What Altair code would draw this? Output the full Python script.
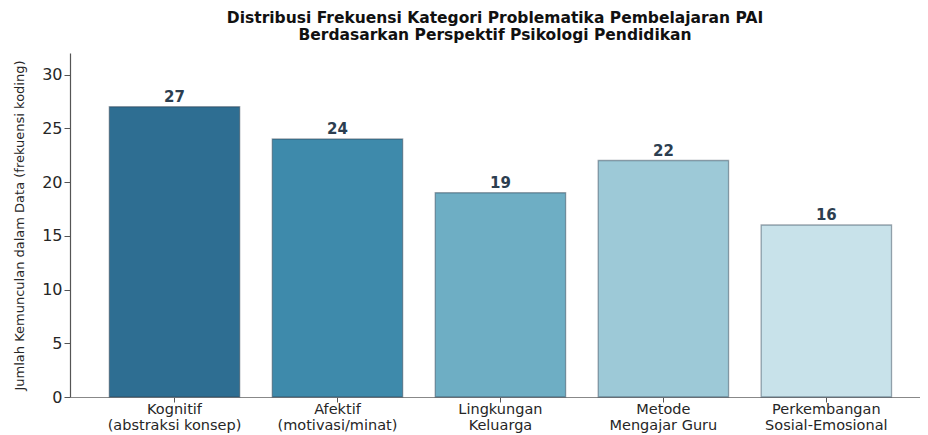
import altair as alt
import pandas as pd

categories = [
    "Kognitif\n(abstraksi konsep)",
    "Afektif\n(motivasi/minat)",
    "Lingkungan\nKeluarga",
    "Metode\nMengajar Guru",
    "Perkembangan\nSosial-Emosional",
]
values = [27, 24, 19, 22, 16]
colors = ["#2e6e92", "#3e8aab", "#6eaec4", "#9dc9d7", "#c8e2ea"]
y_ticks = [0, 5, 10, 15, 20, 25, 30]
title_lines = [
    "Distribusi Frekuensi Kategori Problematika Pembelajaran PAI",
    "Berdasarkan Perspektif Psikologi Pendidikan",
]
y_title = "Jumlah Kemunculan dalam Data (frekuensi koding)"

df = pd.DataFrame({"kategori": categories, "frekuensi": values})

FONT = "DejaVu Sans"

x_enc = alt.X(
    "kategori:N",
    sort=None,
    scale=alt.Scale(paddingInner=0.2, paddingOuter=0.208, align=0.58),
    axis=alt.Axis(
        title=None,
        labelAngle=0,
        labelExpr="split(datum.label, '\\n')",
        labelFont=FONT,
        labelFontSize=14.5,
        labelLineHeight=16,
        labelColor="#262626",
        labelPadding=0,
        tickSize=5,
        tickColor="#555555",
        domainColor="#888888",
        domainWidth=1.2,
    ),
)

y_scale = alt.Scale(domain=[0, 32], nice=False, zero=True)

bars = alt.Chart(df).mark_bar(
    stroke="#2c3e50", strokeOpacity=0.45, strokeWidth=1.3
).encode(
    x=x_enc,
    y=alt.Y(
        "frekuensi:Q",
        scale=y_scale,
        axis=alt.Axis(
            values=y_ticks,
            title=y_title,
            titleFont=FONT,
            titleFontSize=13,
            titleFontWeight="normal",
            titleColor="#262626",
            titlePadding=15,
            labelFont=FONT,
            labelFontSize=16,
            labelColor="#262626",
            labelPadding=2,
            tickSize=6,
            tickColor="#555555",
            domainColor="#555555",
            domainWidth=1.2,
            grid=False,
        ),
    ),
    color=alt.Color(
        "kategori:N",
        sort=None,
        scale=alt.Scale(domain=categories, range=colors),
        legend=None,
    ),
)

labels = alt.Chart(df).mark_text(
    font=FONT, fontSize=15, fontWeight="bold", color="#2c3e50",
    baseline="bottom", dy=-2,
).encode(
    x=alt.X("kategori:N", sort=None),
    y=alt.Y("frekuensi:Q", scale=y_scale),
    text="frekuensi:Q",
)

chart = (bars + labels).properties(
    width=850,
    height=344,
    autosize="none",
    padding={"left": 62, "top": 45, "right": 0, "bottom": 38},
    title=alt.TitleParams(
        title_lines,
        font=FONT,
        fontSize=15.5,
        fontWeight="bold",
        color="#111111",
        anchor="middle",
        offset=10,
        lineHeight=17,
    ),
).configure_view(stroke=None)

chart.save("out.html", embed_options={"renderer": "svg", "actions": False})
